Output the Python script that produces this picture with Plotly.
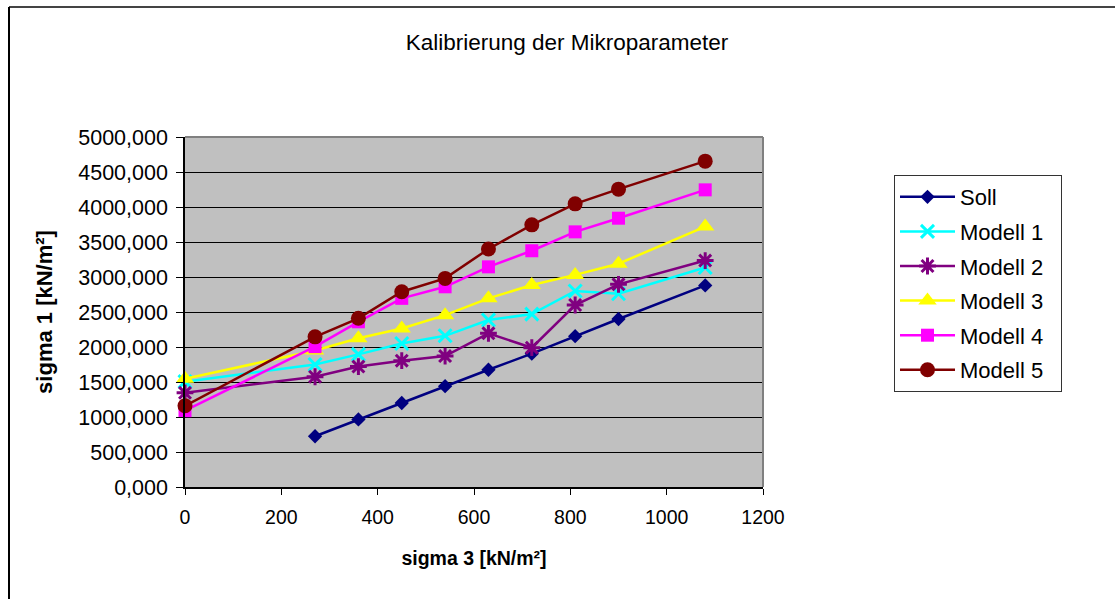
import plotly.graph_objects as go

sigma3 = [0, 270, 360, 450, 540, 630, 720, 810, 900, 1080]
soll_x = [270, 360, 450, 540, 630, 720, 810, 900, 1080]
soll = [725, 965, 1200, 1440, 1675, 1905, 2155, 2400, 2880]
modell1 = [1505, 1750, 1895, 2050, 2160, 2385, 2470, 2800, 2760, 3135]
modell2 = [1345, 1575, 1720, 1805, 1870, 2195, 1990, 2600, 2895, 3235]
modell3 = [1545, 1950, 2125, 2265, 2455, 2695, 2885, 3030, 3190, 3720]
modell4 = [1090, 2005, 2360, 2695, 2860, 3145, 3375, 3645, 3840, 4245]
modell5 = [1160, 2145, 2410, 2790, 2980, 3400, 3745, 4045, 4255, 4655]

ytickvals = [0, 500, 1000, 1500, 2000, 2500, 3000, 3500, 4000, 4500, 5000]
yticktext = ["0,000", "500,000", "1000,000", "1500,000", "2000,000", "2500,000",
             "3000,000", "3500,000", "4000,000", "4500,000", "5000,000"]
xtickvals = [0, 200, 400, 600, 800, 1000, 1200]

series = [
    ("Soll", soll_x, soll, "#000080", "diamond", 11, 0),
    ("Modell 1", sigma3, modell1, "#00FFFF", "x-thin", 13, 3),
    ("Modell 2", sigma3, modell2, "#800080", "asterisk-open", 14, 3),
    ("Modell 3", sigma3, modell3, "#FFFF00", "triangle-up", 16, 0),
    ("Modell 4", sigma3, modell4, "#FF00FF", "square", 13, 0),
    ("Modell 5", sigma3, modell5, "#800000", "circle", 15, 0),
]

fig = go.Figure()
for i, (name, xs, ys, col, sym, size, mlw) in enumerate(series):
    fig.add_trace(go.Scatter(
        x=xs, y=ys, name=name + "\u00a0\u00a0", mode="lines+markers", legendgroup=f"g{i}",
        line=dict(color=col, width=2.5),
        marker=dict(symbol=sym, size=size, color=col,
                    line=dict(color=col, width=mlw)),
        cliponaxis=False,
    ))

base = "Liberation Sans, Arial, sans-serif"

L, R, T, B = 185, 1115 - 763, 137, 599 - 487
pw, ph = 1115 - L - R, 599 - T - B

def px_x(p):
    return (p - L) / pw

def px_y(p):
    return (599 - B - p) / ph

fig.update_layout(
    width=1115, height=599,
    margin=dict(l=L, r=R, t=T, b=B, pad=0),
    paper_bgcolor="white", plot_bgcolor="#C0C0C0",
    title=dict(text="Kalibrierung der Mikroparameter", x=567 / 1115, xanchor="center",
               y=1 - 42 / 599, yanchor="middle", yref="container",
               font=dict(family=base, size=22.5, color="black")),
    font=dict(family=base, color="black"),
    showlegend=True,
    legend=dict(x=px_x(894), y=px_y(175), xanchor="left", yanchor="top",
                bgcolor="white", bordercolor="#333333", borderwidth=1,
                font=dict(family=base, size=22, color="black"),
                itemwidth=55, tracegroupgap=3, traceorder="grouped"),
    xaxis=dict(range=[0, 1200], tickvals=xtickvals, showgrid=False, zeroline=False,
               showline=True, linecolor="black", linewidth=1.5,
               ticks="outside", ticklen=6, tickcolor="black",
               ticklabelstandoff=6,
               tickfont=dict(family=base, size=19.5, color="black"),
               title=dict(text="<b>sigma 3 [kN/m²]</b>", standoff=24,
                          font=dict(family=base, size=19.5, color="black"))),
    yaxis=dict(range=[0, 5000], tickvals=ytickvals, ticktext=yticktext,
               showgrid=True, gridcolor="black", gridwidth=1, zeroline=False,
               showline=True, linecolor="black", linewidth=1.5,
               ticks="outside", ticklen=7, tickcolor="black",
               ticklabelstandoff=4,
               tickfont=dict(family=base, size=21.5, color="black"),
               title=dict(text="<b>sigma 1 [kN/m²]</b>", standoff=20,
                          font=dict(family=base, size=22, color="black"))),
    shapes=[
        dict(type="line", xref="paper", yref="paper", x0=1, x1=1, y0=0, y1=1,
             line=dict(color="#808080", width=2), layer="above"),
        dict(type="line", xref="paper", yref="paper", x0=0, x1=1, y0=1, y1=1,
             line=dict(color="#808080", width=2), layer="above"),
        dict(type="line", xref="paper", yref="paper", x0=px_x(9), x1=px_x(1120),
             y0=px_y(7), y1=px_y(7), line=dict(color="#444444", width=2)),
        dict(type="line", xref="paper", yref="paper", x0=px_x(9), x1=px_x(9),
             y0=px_y(7), y1=px_y(605), line=dict(color="black", width=2)),
    ],
)

fig.write_html("out.html")
